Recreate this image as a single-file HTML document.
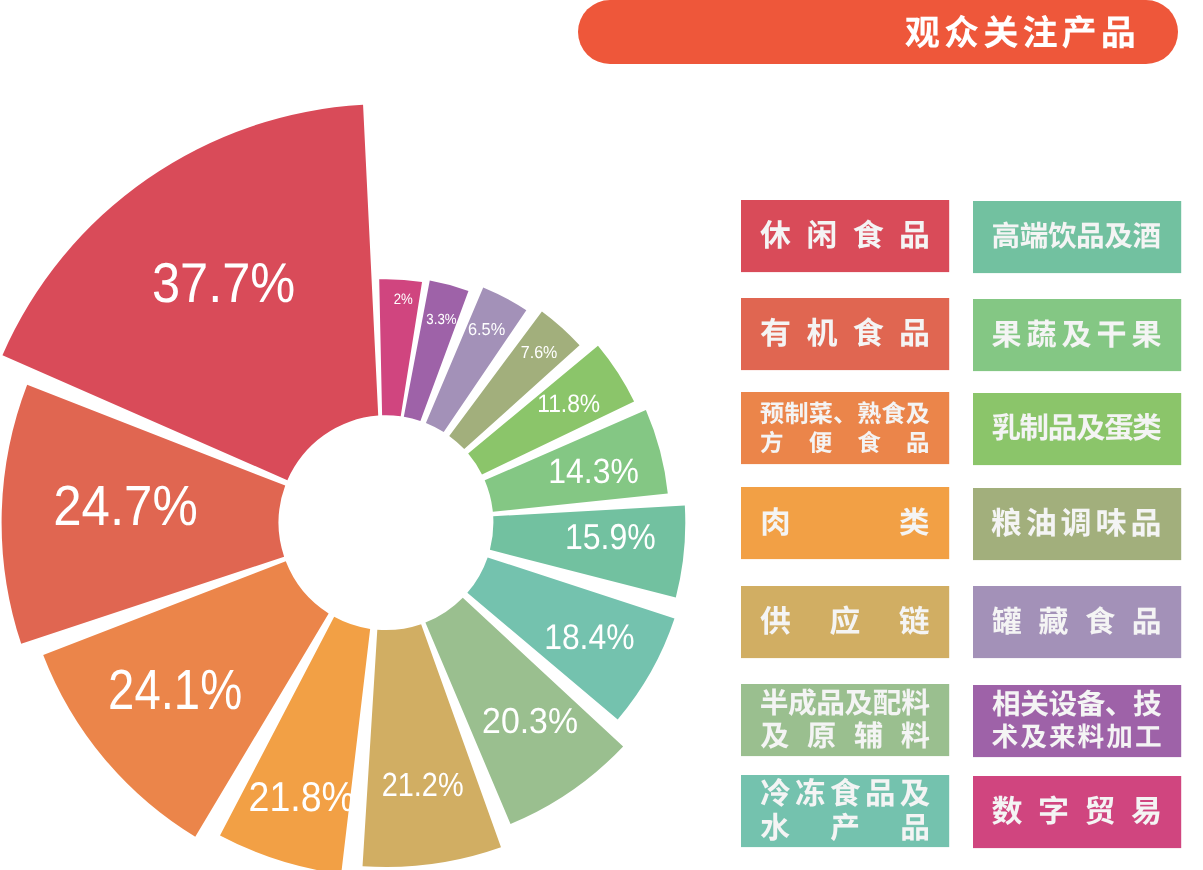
<!DOCTYPE html>
<html lang="zh-CN">
<head>
<meta charset="utf-8">
<title>观众关注产品</title>
<style>
html,body{margin:0;padding:0;background:#fff}
body{width:1203px;height:870px;overflow:hidden}
#page{display:block;width:1203px;height:870px}
#page text{font-family:"Liberation Sans","Noto Sans CJK SC",sans-serif;text-rendering:geometricPrecision;white-space:pre}
#chart text{fill:#fff}
#title text{fill:#fff;font-weight:bold}
.lg text{fill:#f4f4f4;font-weight:bold}

</style>
</head>
<body>
<svg id="page" width="1203" height="870" viewBox="0 0 1203 870">
<g id="title"><rect x="578" y="0" width="600" height="64" rx="32" ry="32" fill="#EE573A"/><text transform="translate(904.8 45.09)" font-size="35.17" letter-spacing="4.04">观众关注产品</text></g>
<g id="chart">
<g>
<path fill="#D0457F" d="M382.11 415.37L379.21 279.29A243.5 243.5 0 0 1 422.03 281.88L400.7 416.31A107.4 107.4 0 0 0 382.11 415.37Z"/>
<path fill="#9E62A8" d="M403.84 416.79L429.76 280.62A246 246 0 0 1 468.45 290.93L420.39 420.96A107.4 107.4 0 0 0 403.84 416.79Z"/>
<path fill="#A391B8" d="M425.9 422.98L483.22 287.39A254.6 254.6 0 0 1 526.33 310.26L443.71 432.12A107.4 107.4 0 0 0 425.9 422.98Z"/>
<path fill="#A2AF7C" d="M449.22 435.88L541.92 311.4A262.6 262.6 0 0 1 579.56 345.24L464.24 449.12A107.4 107.4 0 0 0 449.22 435.88Z"/>
<path fill="#8BC56A" d="M468.18 453.55L597.99 345.81A276.1 276.1 0 0 1 634.1 401.55L481.98 474.5A107.4 107.4 0 0 0 468.18 453.55Z"/>
<path fill="#84C784" d="M484.7 480.36L645.9 409.96A283.3 283.3 0 0 1 667.79 493.52L492.84 511.77A107.4 107.4 0 0 0 484.7 480.36Z"/>
<path fill="#72C1A0" d="M493.2 516.2L684.81 505.6A299.3 299.3 0 0 1 675.81 597.45L489.92 549.83A107.4 107.4 0 0 0 493.2 516.2Z"/>
<path fill="#74C2AE" d="M487.64 557.41L674.48 618.59A304 304 0 0 1 617.68 719.53L467.32 592.85A107.4 107.4 0 0 0 487.64 557.41Z"/>
<path fill="#9ABF8F" d="M462.79 597.79L623.14 746.4A326 326 0 0 1 510.5 823.99L425.4 622.61A107.4 107.4 0 0 0 462.79 597.79Z"/>
<path fill="#D1AE63" d="M421.13 624.19L500.99 847.23A344.3 344.3 0 0 1 362.53 866.2L377.31 629.75A107.4 107.4 0 0 0 421.13 624.19Z"/>
<path fill="#F2A045" d="M370.16 628.92L341.19 873.95A354.1 354.1 0 0 1 220.01 835.48L334.17 616.77A107.4 107.4 0 0 0 370.16 628.92Z"/>
<path fill="#EB854A" d="M328.65 613.51L195.26 836.71A367.4 367.4 0 0 1 43.21 654.89L285.78 561.31A107.4 107.4 0 0 0 328.65 613.51Z"/>
<path fill="#E06651" d="M284.12 556.69L21.2 643.87A384.4 384.4 0 0 1 27.16 384.86L285.22 485.58A107.4 107.4 0 0 0 284.12 556.69Z"/>
<path fill="#D94B59" d="M287.39 480.14L2.45 355.28A418.5 418.5 0 0 1 363.06 104.83L378.23 415.58A107.4 107.4 0 0 0 287.39 480.14Z"/>
</g>
<g>
<text transform="translate(393.74 303.92) scale(0.8765 1)" font-size="15.07">2%</text>
<text transform="translate(426.35 323.91) scale(0.9 1)" font-size="14.71">3.3%</text>
<text transform="translate(467.94 335.12) scale(0.9452 1)" font-size="17.29">6.5%</text>
<text transform="translate(520.75 357.78) scale(0.9258 1)" font-size="17.38">7.6%</text>
<text transform="translate(537.18 412.01) scale(0.9039 1)" font-size="25.22">11.8%</text>
<text transform="translate(548.29 483.18) scale(0.9093 1)" font-size="35.11">14.3%</text>
<text transform="translate(564.96 548.91) scale(0.8877 1)" font-size="36.07">15.9%</text>
<text transform="translate(544.2 649.2) scale(0.8951 1)" font-size="35.6">18.4%</text>
<text transform="translate(482.07 733.39) scale(0.9383 1)" font-size="36.05">20.3%</text>
<text transform="translate(381.69 796.19) scale(0.8621 1)" font-size="33.51">21.2%</text>
<text transform="translate(248.57 810.74) scale(0.9 1)" font-size="41.7">21.8%</text>
<text transform="translate(108.11 708.78) scale(0.8354 1)" font-size="56.62">24.1%</text>
<text transform="translate(53.2 524.86) scale(0.9001 1)" font-size="56.67">24.7%</text>
<text transform="translate(151.98 302.38) scale(0.901 1)" font-size="56.12">37.7%</text>
</g>
</g>
<g id="legend">
<g class="lg"><rect x="741" y="200" width="208.2" height="72.1" fill="#D94B59"/><text transform="translate(760.08 246.33) scale(1.001 1)" font-size="30.88" letter-spacing="15.41">休闲食品</text></g>
<g class="lg"><rect x="741" y="298" width="208.2" height="72.1" fill="#E06651"/><text transform="translate(760.08 343.88) scale(1.001 1)" font-size="30.96" letter-spacing="15.31">有机食品</text></g>
<g class="lg"><rect x="741" y="392" width="208.2" height="72.1" fill="#EB854A"/><text transform="translate(760.11 422.37) scale(1.001 1)" font-size="24.12" letter-spacing="0.16">预制菜、熟食及</text><text transform="translate(760 450.86) scale(1.001 1)" font-size="23.49" letter-spacing="25.1">方便食品</text></g>
<g class="lg"><rect x="741" y="487" width="208.2" height="72.1" fill="#F2A045"/><text transform="translate(760.17 532.97) scale(1.001 1)" font-size="30.41" letter-spacing="108.27">肉类</text></g>
<g class="lg"><rect x="741" y="586" width="208.2" height="72.1" fill="#D1AE63"/><text transform="translate(760.11 631.85) scale(1.001 1)" font-size="30.79" letter-spacing="38.49">供应链</text></g>
<g class="lg"><rect x="741" y="684" width="208.2" height="72.1" fill="#9ABF8F"/><text transform="translate(759.71 712.82) scale(1.001 1)" font-size="28.69" letter-spacing="-0.43">半成品及配料</text><text transform="translate(760.27 745.69) scale(1.001 1)" font-size="29.13" letter-spacing="17.64">及原辅料</text></g>
<g class="lg"><rect x="741" y="775" width="208.2" height="72.1" fill="#74C2AE"/><text transform="translate(760.15 803.96) scale(1.001 1)" font-size="30.43" letter-spacing="4.47">冷冻食品及</text><text transform="translate(760.34 837.78) scale(1.001 1)" font-size="29.71" letter-spacing="40.12">水产品</text></g>
<g class="lg"><rect x="973" y="201" width="208.2" height="72.1" fill="#72C1A0"/><text transform="translate(991.53 245.87) scale(1.001 1)" font-size="28.58" letter-spacing="-0.42">高端饮品及酒</text></g>
<g class="lg"><rect x="973" y="299" width="208.2" height="72.1" fill="#84C784"/><text transform="translate(991.48 344.96) scale(1.001 1)" font-size="29.99" letter-spacing="5">果蔬及干果</text></g>
<g class="lg"><rect x="973" y="393" width="208.2" height="72.1" fill="#8BC56A"/><text transform="translate(991.39 438.26) scale(1.001 1)" font-size="29.47" letter-spacing="-1.3">乳制品及蛋类</text></g>
<g class="lg"><rect x="973" y="488" width="208.2" height="72.1" fill="#A2AF7C"/><text transform="translate(990.73 534.37) scale(1.001 1)" font-size="31" letter-spacing="3.89">粮油调味品</text></g>
<g class="lg"><rect x="973" y="586" width="208.2" height="72.1" fill="#A391B8"/><text transform="translate(992.12 632.4) scale(1.001 1)" font-size="29.8" letter-spacing="16.66">罐藏食品</text></g>
<g class="lg"><rect x="973" y="685" width="208.2" height="72.1" fill="#9E62A8"/><text transform="translate(992.08 713.87) scale(1.001 1)" font-size="28.56" letter-spacing="-0.38">相关设备、技</text><text transform="translate(991.62 746.22) scale(1.001 1)" font-size="26.64" letter-spacing="2.01">术及来料加工</text></g>
<g class="lg"><rect x="973" y="776" width="208.2" height="72.1" fill="#D0457F"/><text transform="translate(991.4 822.21) scale(1.001 1)" font-size="31.02" letter-spacing="15.46">数字贸易</text></g>
</g>
</svg>
</body>
</html>
